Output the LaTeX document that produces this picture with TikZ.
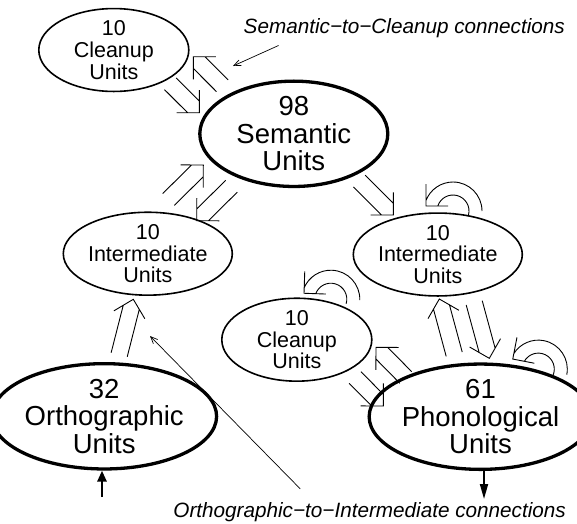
\documentclass[tikz,border=0pt]{standalone}
\usepackage{fontspec}
\setmainfont{Liberation Sans}
\usetikzlibrary{arrows.meta,shapes.geometric,calc}

\tikzset{
  unitbox/.style={ellipse, draw, line width=1.6pt, inner sep=0pt,
    minimum width=150pt, minimum height=73pt, align=center,
    font=\fontsize{21.5}{21.7}\selectfont},
  layerbox/.style={unitbox, line width=3.3pt, minimum width=188pt,
    minimum height=99pt, font=\fontsize{27.5}{27.5}\selectfont},
  widearr/.style={line width=0.9pt},
  notearr/.style={line width=0.7pt, -{Straight Barb[length=7pt,width=6pt]}},
  note/.style={font=\fontsize{20.7}{20.7}\selectfont\itshape, inner sep=0pt},
}

% open two-line arrow: #1 tail, #2 tip
\newcommand\widearrow[2]{%
  \draw[widearr] ($(#2)!22.6pt!45:(#1)$) -- (#2) -- ($(#2)!22.6pt!-45:(#1)$)
    ($(#1)!8.3pt!-90:(#2)$) -- ($(#2)!11.7pt!45:(#1)$)
    ($(#1)!8.3pt!90:(#2)$) -- ($(#2)!11.7pt!-45:(#1)$);}

% recurrent loop: #1 centre, #2 rotation
\newcommand\selfloop[2]{%
  \begin{scope}[shift={#1}, rotate=#2]
    \draw[widearr] (0:29) arc[start angle=0, end angle=158.6, radius=29]
      (-14.5:16) arc[start angle=-14.5, end angle=161.8, radius=16]
      (-27,27) -- (-27,5) -- (-5,5);
  \end{scope}}

\begin{document}
\begin{tikzpicture}[x=1pt, y=1pt]
  \useasboundingbox (0,0) rectangle (577,-523);

  % layers
  \node[unitbox] (cleanA) at (113.8,-50) {10\\Cleanup\\Units};
  \node[layerbox] (sem) at (293.8,-133.8) {98\\Semantic\\Units};
  \node[unitbox] (interL) at (147.8,-253.7) {10\\Intermediate\\Units};
  \node[unitbox] (interR) at (437.8,-254.5) {10\\Intermediate\\Units};
  \node[unitbox] (cleanB) at (296.8,-339.7) {10\\Cleanup\\Units};
  \node[layerbox] (orth) at (104.2,-416.3) {32\\Orthographic\\Units};
  \node[layerbox] (phon) at (480.5,-416.7) {61\\Phonological\\Units};

  % notes
  \node[note, anchor=base east] (semnote) at (565,-33) {Semantic−to−Cleanup connections};
  \node[note, anchor=base east] (orthnote) at (566,-517) {Orthographic−to−Intermediate connections};

  % ends of the connection bundles
  \coordinate (cs-t) at (170.3,-83.7);  \coordinate (cs-h) at (199.3,-112.7);
  \coordinate (sc-t) at (222.3,-85.7);  \coordinate (sc-h) at (193.3,-56.7);
  \coordinate (is-t) at (168.5,-199.5); \coordinate (is-h) at (203.3,-165);
  \coordinate (si-t) at (231.5,-186.2); \coordinate (si-h) at (196.7,-220.7);
  \coordinate (sr-t) at (359.3,-181);   \coordinate (sr-h) at (393.3,-215);
  \coordinate (rp-t) at (474.2,-302.8); \coordinate (rp-h) at (489.3,-358.3);
  \coordinate (pr-t) at (454.2,-354.2); \coordinate (pr-h) at (439.3,-299);
  \coordinate (cp-t) at (355,-377.5);   \coordinate (cp-h) at (383.3,-406);
  \coordinate (pc-t) at (405.8,-377.5); \coordinate (pc-h) at (376,-347.3);
  \coordinate (oi-t) at (119.2,-354.7); \coordinate (oi-h) at (133.3,-299.3);

  \widearrow{cs-t}{cs-h}
  \widearrow{sc-t}{sc-h}
  \widearrow{is-t}{is-h}
  \widearrow{si-t}{si-h}
  \widearrow{sr-t}{sr-h}
  \widearrow{rp-t}{rp-h}
  \widearrow{pr-t}{pr-h}
  \widearrow{cp-t}{cp-h}
  \widearrow{pc-t}{pc-h}
  \widearrow{oi-t}{oi-h}

  % recurrent connections
  \coordinate (loopR) at (453,-211);
  \coordinate (loopC) at (330.8,-299.2);
  \coordinate (loopP) at (538.3,-369.1);
  \selfloop{(loopR)}{0}
  \selfloop{(loopC)}{-2}
  \selfloop{(loopP)}{-11}

  % input and output
  \coordinate (orthin) at (102,-497);
  \coordinate (phonout) at (484,-499);
  \draw[line width=2.6pt, -{Triangle[length=11pt,width=9pt]}] (orthin) -- (orthin |- orth.south);
  \draw[line width=1.8pt, -{Triangle[length=15pt,width=8pt]}] (phonout |- phon.south) -- (phonout);

  % pointers from the notes
  \coordinate (semptr) at (233,-66);
  \coordinate (orthptr) at (150,-336);
  \draw[notearr] ($(semnote.south west)+(35,-8)$) -- (semptr);
  \draw[notearr] ($(orthnote.north west)+(127,13)$) -- (orthptr);
\end{tikzpicture}
\end{document}
